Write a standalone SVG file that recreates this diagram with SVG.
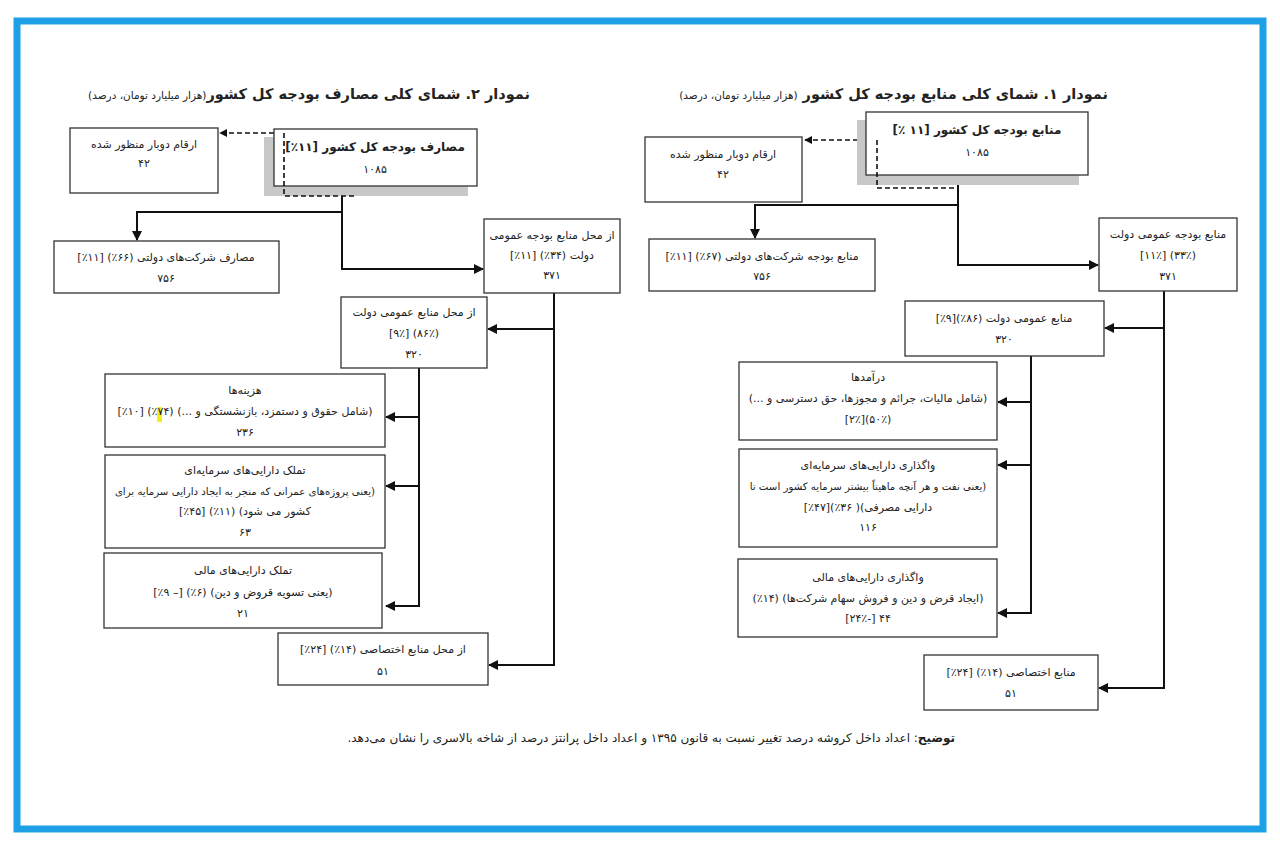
<svg xmlns="http://www.w3.org/2000/svg" width="1280" height="848" viewBox="0 0 1280 848">
<style>
text{font-family:"DejaVu Sans","Noto Sans",sans-serif;font-size:11px;fill:#222;direction:rtl;text-anchor:middle}
.t{text-anchor:start;font-size:14.5px;font-weight:bold}
.s{font-size:10.5px;font-weight:normal}
.b{font-weight:bold;font-size:12px}
.n{font-size:10.2px}
.box{fill:#fff;stroke:#333;stroke-width:1.3}
.sh{fill:#c8c8c8}
.ln{fill:none;stroke:#111;stroke-width:2}
.ds{fill:none;stroke:#111;stroke-width:1.6;stroke-dasharray:5,3}
</style>
<defs>
<marker id="ar" viewBox="0 0 10 10" refX="9" refY="5" markerWidth="5" markerHeight="5" orient="auto"><path d="M0,0L10,5L0,10z" fill="#111"/></marker>
</defs>
<rect x="0" y="0" width="1280" height="848" fill="#fff"/>
<rect x="17" y="21" width="1246" height="808" fill="none" stroke="#1ea0e6" stroke-width="7"/>

<text class="t" x="530" y="99">نمودار ۲. شمای کلی مصارف بودجه کل کشور<tspan class="s">(هزار میلیارد تومان، درصد)</tspan></text>
<text class="t" x="1108" y="99">نمودار ۱. شمای کلی منابع بودجه کل کشور <tspan class="s">(هزار میلیارد تومان، درصد)</tspan></text>

<g id="connectors">
<path class="ds" d="M274,133H220" marker-end="url(#ar)"/>
<path class="ln" d="M342,186V212H137V240" marker-end="url(#ar)"/>
<path class="ln" d="M342,212V269H483" marker-end="url(#ar)"/>
<path class="ln" d="M554,293V665H489" marker-end="url(#ar)"/>
<path class="ln" d="M554,329H488" marker-end="url(#ar)"/>
<path class="ln" d="M419,368V606H386" marker-end="url(#ar)"/>
<path class="ln" d="M419,417H386" marker-end="url(#ar)"/>
<path class="ln" d="M419,486H386" marker-end="url(#ar)"/>
<path class="ds" d="M866,140H805" marker-end="url(#ar)"/>
<path class="ln" d="M958,175V205H755V238" marker-end="url(#ar)"/>
<path class="ln" d="M958,205V265H1098" marker-end="url(#ar)"/>
<path class="ln" d="M1164,291V688H1099" marker-end="url(#ar)"/>
<path class="ln" d="M1164,328H1105" marker-end="url(#ar)"/>
<path class="ln" d="M1031,356V613H998" marker-end="url(#ar)"/>
<path class="ln" d="M1031,402H998" marker-end="url(#ar)"/>
<path class="ln" d="M1031,465H998" marker-end="url(#ar)"/>
</g>

<g id="L-main"><rect class="sh" x="264" y="137" width="204" height="59"/><rect class="box" x="274" y="129" width="203" height="57"/>
<text class="b" x="375" y="151">مصارف بودجه کل کشور [۱۱٪]</text><text x="375" y="173">۱۰۸۵</text>
<path class="ds" d="M284,133V196H355"/></g>
<g id="L-dup"><rect class="box" x="70" y="128" width="148" height="65"/><text x="144" y="148">ارقام دوبار منظور شده</text><text x="144" y="167">۴۲</text></g>
<g id="L-co"><rect class="box" x="54" y="241" width="225" height="52"/><text x="166" y="261">مصارف شرکت‌های دولتی (۶۶٪) [۱۱٪]</text><text x="166" y="282">۷۵۶</text></g>
<g id="L-gen"><rect class="box" x="484" y="219" width="136" height="74"/><text x="552" y="239">از محل منابع بودجه عمومی</text><text x="552" y="259">دولت (۳۴٪) [۱۱٪]</text><text x="552" y="279">۳۷۱</text></g>
<g id="L-pub"><rect class="box" x="341" y="297" width="146" height="71"/><text x="414" y="316">از محل منابع عمومی دولت</text><text x="414" y="337">(۸۶٪) [۹٪]</text><text x="414" y="358">۳۲۰</text></g>
<g id="L-cost"><rect class="box" x="105" y="374" width="280" height="73"/><rect x="157" y="407" width="5" height="15" fill="#f2ee1a"/><text x="245" y="394">هزینه‌ها</text><text x="245" y="415">(شامل حقوق و دستمزد، بازنشستگی و ...) (۷۴٪) [۱۰٪]</text><text x="245" y="436">۲۳۶</text></g>
<g id="L-cap"><rect class="box" x="105" y="455" width="280" height="93"/><text x="245" y="474">تملک دارایی‌های سرمایه‌ای</text><text class="n" x="245" y="495">(یعنی پروژه‌های عمرانی که منجر به ایجاد دارایی سرمایه برای</text><text x="245" y="515">کشور می شود) (۱۱٪) [۴۵٪]</text><text x="245" y="536">۶۳</text></g>
<g id="L-fin"><rect class="box" x="104" y="553" width="278" height="75"/><text x="243" y="574">تملک دارایی‌های مالی</text><text x="243" y="596">(یعنی تسویه قروض و دین) (۶٪) [– ۹٪]</text><text x="243" y="617">۲۱</text></g>
<g id="L-ded"><rect class="box" x="278" y="633" width="210" height="52"/><text x="383" y="653">از محل منابع  اختصاصی (۱۴٪) [۲۴٪]</text><text x="383" y="675">۵۱</text></g>

<g id="R-main"><rect class="sh" x="857" y="120" width="222" height="65"/><rect class="box" x="866" y="112" width="222" height="63"/>
<text class="b" x="977" y="134">منابع بودجه کل کشور  [۱۱ ٪]</text><text x="977" y="156">۱۰۸۵</text>
<path class="ds" d="M877,140V188H957"/></g>
<g id="R-dup"><rect class="box" x="645" y="137" width="157" height="65"/><text x="723" y="158">ارقام دوبار منظور شده</text><text x="723" y="178">۴۲</text></g>
<g id="R-co"><rect class="box" x="649" y="239" width="226" height="52"/><text x="762" y="260">منابع بودجه شرکت‌های دولتی (۶۷٪) [۱۱٪]</text><text x="762" y="280">۷۵۶</text></g>
<g id="R-gen"><rect class="box" x="1099" y="218" width="138" height="73"/><text x="1168" y="238">منابع بودجه عمومی دولت</text><text x="1168" y="259">(۳۳٪) [۱۱٪]</text><text x="1168" y="280">۳۷۱</text></g>
<g id="R-pub"><rect class="box" x="905" y="301" width="199" height="55"/><text x="1004" y="322">منابع عمومی دولت (۸۶٪)[۹٪]</text><text x="1004" y="343">۳۲۰</text></g>
<g id="R-rev"><rect class="box" x="739" y="362" width="258" height="78"/><text x="868" y="381">درآمدها</text><text x="868" y="402">(شامل مالیات، جرائم و مجوزها، حق دسترسی و ...)</text><text x="868" y="423">(۵۰٪)[۲٪]</text></g>
<g id="R-cap"><rect class="box" x="739" y="449" width="258" height="98"/><text x="868" y="469">واگذاری دارایی‌های سرمایه‌ای</text><text class="n" x="868" y="490">(یعنی نفت و هر آنچه ماهیتاً بیشتر سرمایه کشور است تا</text><text x="868" y="511">دارایی مصرفی)( ۳۶٪)[۴۷٪]</text><text x="868" y="531">۱۱۶</text></g>
<g id="R-fin"><rect class="box" x="738" y="559" width="259" height="78"/><text x="868" y="581">واگذاری دارایی‌های مالی</text><text x="868" y="602">(ایجاد قرض و دین و فروش سهام شرکت‌ها) (۱۴٪)</text><text x="868" y="622">۴۴  [-۲۴٪]</text></g>
<g id="R-ded"><rect class="box" x="924" y="655" width="174" height="55"/><text x="1011" y="676">منابع  اختصاصی (۱۴٪) [۲۴٪]</text><text x="1011" y="697">۵۱</text></g>

<text x="955" y="742" style="text-anchor:start;font-size:12px"><tspan font-weight="bold">توضیح</tspan>: اعداد داخل کروشه درصد تغییر نسبت به قانون ۱۳۹۵ و اعداد داخل پرانتز درصد از شاخه بالاسری را نشان می‌دهد.</text>
</svg>
